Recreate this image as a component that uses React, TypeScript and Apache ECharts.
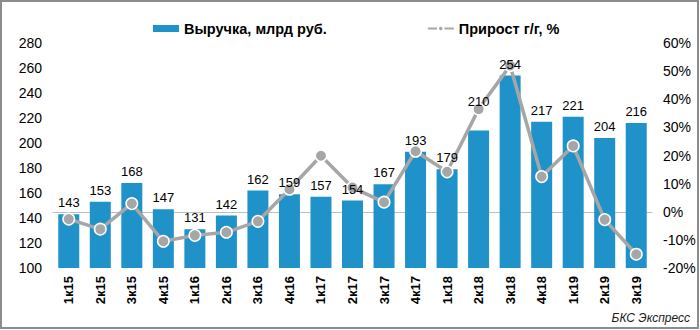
import React, { useEffect, useRef } from "react";
import * as echarts from "echarts";

const categories = ["1к15","2к15","3к15","4к15","1к16","2к16","3к16","4к16","1к17","2к17","3к17","4к17","1к18","2к18","3к18","4к18","1к19","2к19","3к19"];
const revenue = [143,153,168,147,131,142,162,159,157,154,167,193,179,210,254,217,221,204,216];
const growth = [-2.6,-6.2,2.9,-10.5,-8.4,-7.3,-3.4,8.0,19.9,8.6,3.4,21.5,14.2,36.5,52.0,12.5,23.4,-2.8,-15.1];
const leftTicks = { min: 100, max: 280, interval: 20 };
const rightTicks = { min: -20, max: 60, interval: 10 };
const revenueName = "Выручка, млрд руб.";
const growthName = "Прирост г/г, %";
const sourceText = "БКС Экспресс";

const FONT = "'Liberation Sans', Arial, sans-serif";

export default function App() {
  const ref = useRef<HTMLDivElement>(null);
  useEffect(() => {
    if (!ref.current) return;
    const chart = echarts.init(ref.current, null, { renderer: "svg" });
    const labelData = revenue.map((v, i) =>
      v === 210 && i === 13
        ? { value: v, label: { offset: [0, -18] } }
        : v
    );
    chart.setOption({
      animation: false,
      backgroundColor: "#ffffff",
      textStyle: { fontFamily: FONT },
      legend: {
        left: 148,
        top: 16,
        itemGap: 100,
        itemWidth: 26,
        itemHeight: 7,
        data: [
          { name: revenueName, icon: "rect" },
          { name: growthName },
        ],
        textStyle: { fontFamily: FONT, fontSize: 14.5, fontWeight: "bold", color: "#000" },
      },
      grid: { left: 53, right: 48, top: 43, bottom: 62 },
      xAxis: {
        type: "category",
        data: categories,
        axisTick: { show: false },
        axisLine: { lineStyle: { color: "#bfbfbf", width: 1 } },
        axisLabel: {
          rotate: 90,
          fontSize: 13,
          fontWeight: "bold",
          color: "#000",
          margin: 8,
          fontFamily: FONT,
        },
      },
      yAxis: [
        {
          type: "value",
          min: leftTicks.min,
          max: leftTicks.max,
          interval: leftTicks.interval,
          splitLine: { show: false },
          axisLine: { show: false },
          axisTick: { show: false },
          axisLabel: { fontSize: 14, color: "#000", margin: 11, fontFamily: FONT },
        },
        {
          type: "value",
          min: rightTicks.min,
          max: rightTicks.max,
          interval: rightTicks.interval,
          splitLine: { show: false },
          axisLine: { show: false },
          axisTick: { show: false },
          axisLabel: { fontSize: 14, color: "#000", margin: 11, formatter: "{value}%", fontFamily: FONT },
        },
      ],
      series: [
        {
          name: revenueName,
          type: "bar",
          data: revenue,
          barWidth: 21,
          itemStyle: { color: "#1f93c9" },
          z: 2,
        },
        {
          name: growthName,
          type: "line",
          yAxisIndex: 1,
          data: growth,
          symbol: "circle",
          symbolSize: 11.5,
          lineStyle: { color: "#a6a6a6", width: 3.5 },
          itemStyle: { color: "#a6a6a6", borderColor: "#ffffff", borderWidth: 1.5 },
          z: 3,
        },
        {
          name: "labels",
          type: "bar",
          data: labelData,
          barWidth: 21,
          barGap: "-100%",
          itemStyle: { color: "rgba(0,0,0,0)" },
          label: {
            show: true,
            position: "top",
            distance: 5,
            fontSize: 13,
            color: "#000",
            fontFamily: FONT,
          },
          silent: true,
          z: 5,
        },
      ],
      graphic: [
        {
          type: "rect",
          shape: { x: 1, y: 1, width: 697, height: 327 },
          style: { fill: "none", stroke: "#8c8c8c", lineWidth: 2 },
          silent: true,
        },
        {
          type: "text",
          x: 690,
          y: 318,
          style: {
            text: sourceText,
            fontSize: 12,
            fontStyle: "italic",
            fontFamily: FONT,
            fill: "#1a1a1a",
            align: "right",
            verticalAlign: "middle",
          },
        },
      ],
    });
    return () => chart.dispose();
  }, []);
  return (
    <div
      ref={ref}
      style={{ position: "fixed", left: 0, top: 0, width: 700, height: 330 }}
    />
  );
}
